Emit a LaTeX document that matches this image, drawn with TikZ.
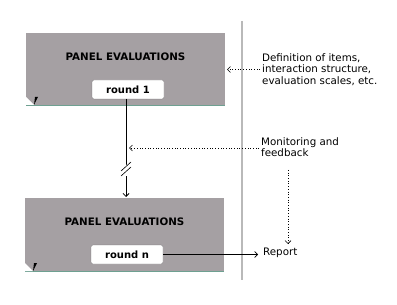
\documentclass[tikz,border=0pt]{standalone}
\usepackage{fontspec}
\setmainfont{DejaVu Sans}
\usetikzlibrary{arrows.meta}
\definecolor{panelgray}{RGB}{165,160,163}
\definecolor{sepgray}{RGB}{185,185,185}
\definecolor{edgeteal}{RGB}{110,160,145}
\begin{document}
\begin{tikzpicture}[x=1pt,y=-1pt,
  panel/.style={fill=panelgray,draw=none},
  roundbox/.style={fill=white,draw=panelgray!70!black,line width=0.3pt,rounded corners=2pt,minimum width=72pt,minimum height=19pt,inner sep=0pt,font=\fontsize{10}{12}\selectfont\bfseries},
  title/.style={font=\fontsize{10.3}{12}\selectfont\bfseries,inner sep=0pt},
  side/.style={font=\fontsize{10.3}{11.5}\selectfont,align=left,anchor=west,inner sep=0pt},
  tip/.style={-{Straight Barb[length=3pt,width=6pt]}},
  dots/.style={dotted,line width=0.7pt}]
\useasboundingbox (0,0) rectangle (397,305);
% separator
\coordinate (sepT) at (242,21);
\coordinate (sepB) at (242,280);
\draw[sepgray,line width=1.5pt] (sepT) -- (sepB);
% panels
\path[panel] (26,33) rectangle (225,105);
\draw[edgeteal,line width=0.8pt] (26,105) -- (225,105);
\node[title] (t1) at (125.5,57) {PANEL EVALUATIONS};
\node[roundbox] (r1) at (128,89.5) {round 1};
\path[fill=white] (26,105) -- (26,97) -- (34,105) -- cycle;
\path[fill=black] (34,105) -- (35,97) -- (38,97) -- cycle;
\node[inner sep=0pt,minimum width=199pt,minimum height=72pt] (p1) at (125.5,69) {};
\path[panel] (25,198) rectangle (224,271);
\draw[edgeteal,line width=0.8pt] (25,271) -- (224,271);
\node[title] (t2) at (124.5,222) {PANEL EVALUATIONS};
\node[roundbox] (r2) at (127,254.5) {round n};
\path[fill=white] (25,271) -- (25,263) -- (33,271) -- cycle;
\path[fill=black] (33,271) -- (34,263) -- (37,263) -- cycle;
\node[inner sep=0pt,minimum width=199pt,minimum height=73pt] (p2) at (124.5,234.5) {};
% side texts
\node[side] (def) at (262,69.5) {Definition of items,\\interaction structure,\\evaluation scales, etc.};
\node[side] (mon) at (261,147) {Monitoring and\\feedback};
\node[side] (rep) at (263,253) {Report};
% main connector
\coordinate (c1) at (126,99);
\coordinate (c2) at (126,197);
\draw[tip,line width=0.8pt] (c1) -- (c2);
\path[fill=white] (120,167) -- (132,163) -- (132,174) -- (120,178) -- cycle;
\draw[line width=0.6pt] (121,171) -- (131,162);
\draw[line width=0.6pt] (121,176) -- (131,167);
% dotted arrows
\coordinate (monend) at (129,148);
\coordinate (monstart) at (259,148);
\draw[dots,tip] (monstart) -- (monend);
\coordinate (defend) at (227,69.5);
\coordinate (defstart) at (260,69.5);
\draw[dots,tip] (defstart) -- (defend);
\coordinate (vt) at (288,170);
\coordinate (vb) at (288,244);
\draw[dots,tip] (vt) -- (vb);
% report
\coordinate (repend) at (258,254.5);
\draw[tip,line width=0.7pt] (r2.east) -- (repend);
\end{tikzpicture}
\end{document}
